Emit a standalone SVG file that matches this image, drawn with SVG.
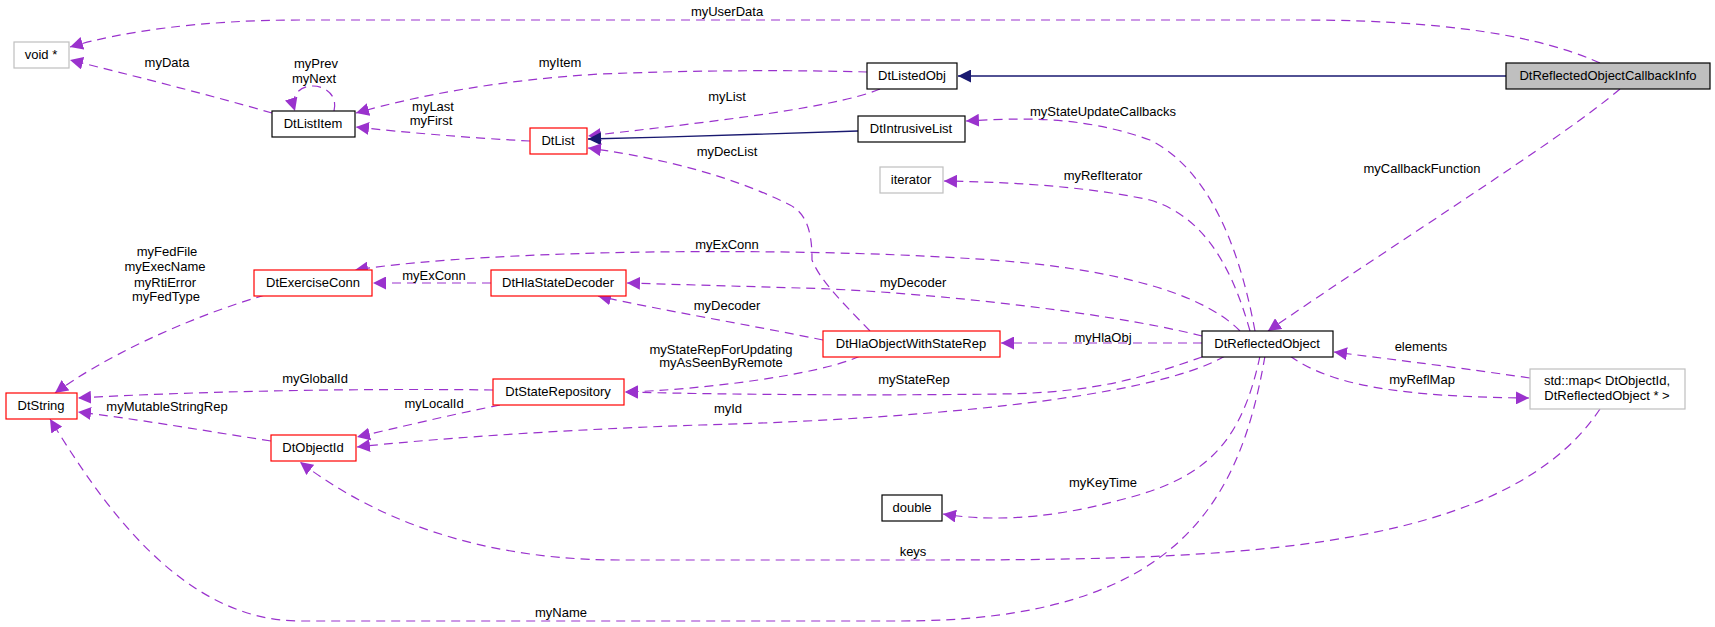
<svg xmlns="http://www.w3.org/2000/svg" width="1715" height="627" viewBox="0 0 1715 627">
<style>
text{font-family:"Liberation Sans",Arial,sans-serif;font-size:13px;fill:#000}
.n text{text-anchor:middle}
.lb{text-anchor:middle}
.e{fill:none;stroke:#9a32cd;stroke-dasharray:9,6;stroke-width:1.2}
.i{fill:none;stroke:#191970;stroke-width:1.3}
.bk{fill:#fff;stroke:#000;stroke-width:1.2}
.rd{fill:#fff;stroke:#ff0000;stroke-width:1.2}
.gy{fill:#fff;stroke:#bfbfbf;stroke-width:1.2}
</style>
<defs>
<marker id="a" viewBox="0 0 10 10" refX="10" refY="5" markerWidth="13" markerHeight="13" markerUnits="userSpaceOnUse" orient="auto"><path d="M0,0L10,5L0,10z" fill="#9a32cd"/></marker>
<marker id="b" viewBox="0 0 10 10" refX="10" refY="5" markerWidth="13" markerHeight="13" markerUnits="userSpaceOnUse" orient="auto"><path d="M0,0L10,5L0,10z" fill="#191970"/></marker>
</defs>
<g id="edges">
<path class="e" marker-end="url(#a)" d="M1600,63 C1560,45 1480,20 1300,20 L300,20 C200,20 120,32 70,47"/>
<path class="e" marker-end="url(#a)" d="M867,72 C800,70 700,70 600,74 C500,80 420,95 356,113"/>
<path class="e" marker-end="url(#a)" d="M272,113 C210,95 130,75 70,60"/>
<path class="e" marker-end="url(#a)" d="M334,111 C338,95 325,86 313,86 C300,86 290,95 295,111"/>
<path class="e" marker-end="url(#a)" d="M530,141 C470,138 400,132 356,127"/>
<path class="e" marker-end="url(#a)" d="M880,89 C830,110 680,125 588,136"/>
<path class="i" marker-end="url(#b)" d="M1506,76 L958,76"/>
<path class="i" marker-end="url(#b)" d="M858,131 C780,134 680,137 588,139"/>
<path class="e" marker-end="url(#a)" d="M1255,331 C1240,250 1210,170 1150,140 C1080,115 1020,118 966,121"/>
<path class="e" marker-end="url(#a)" d="M1250,331 C1230,260 1200,215 1150,200 C1080,185 1000,182 944,181"/>
<path class="e" marker-end="url(#a)" d="M870,331 C840,300 820,280 812,260 C812,240 810,215 790,205 C720,170 640,155 588,148"/>
<path class="e" marker-end="url(#a)" d="M1620,89 C1560,140 1400,240 1268,331"/>
<path class="e" marker-end="url(#a)" d="M1240,331 C1200,290 1100,265 960,258 C800,248 500,248 355,270"/>
<path class="e" marker-end="url(#a)" d="M491,283 L373,283"/>
<path class="e" marker-end="url(#a)" d="M1202,336 C1100,310 900,290 800,288 L627,283"/>
<path class="e" marker-end="url(#a)" d="M823,340 C750,325 660,310 598,296"/>
<path class="e" marker-end="url(#a)" d="M1202,343 L1001,343"/>
<path class="e" marker-end="url(#a)" d="M860,356 C820,375 700,390 625,392"/>
<path class="e" marker-end="url(#a)" d="M1202,357 C1150,375 1100,393 1000,394 C850,396 700,394 625,392"/>
<path class="e" marker-end="url(#a)" d="M1225,356 C1150,400 900,420 700,425 C550,430 420,440 357,447"/>
<path class="e" marker-end="url(#a)" d="M493,390 C350,388 180,392 78,398"/>
<path class="e" marker-end="url(#a)" d="M500,405 C450,415 400,427 357,437"/>
<path class="e" marker-end="url(#a)" d="M271,441 C200,430 130,418 78,412"/>
<path class="e" marker-end="url(#a)" d="M265,295 C180,320 100,360 55,393"/>
<path class="e" marker-end="url(#a)" d="M1265,356 C1240,500 1180,621 900,621 L300,621 C180,621 100,500 50,419"/>
<path class="e" marker-end="url(#a)" d="M1600,409 C1500,560 1200,560 900,560 L620,560 C450,560 350,500 300,462"/>
<path class="e" marker-end="url(#a)" d="M1260,356 C1240,450 1200,480 1120,500 C1040,522 980,520 943,514"/>
<path class="e" marker-end="url(#a)" d="M1530,378 C1440,365 1380,358 1334,352"/>
<path class="e" marker-end="url(#a)" d="M1290,356 C1330,385 1400,397 1529,398"/>
</g>
<g id="labels">
<text class="lb" x="727" y="16">myUserData</text>
<text class="lb" x="560" y="67">myItem</text>
<text class="lb" x="167" y="67">myData</text>
<text class="lb" x="316" y="68">myPrev</text>
<text class="lb" x="314" y="83">myNext</text>
<text class="lb" x="433" y="111">myLast</text>
<text class="lb" x="431" y="125">myFirst</text>
<text class="lb" x="727" y="101">myList</text>
<text class="lb" x="727" y="156">myDecList</text>
<text class="lb" x="1103" y="116">myStateUpdateCallbacks</text>
<text class="lb" x="1103" y="180">myRefIterator</text>
<text class="lb" x="1422" y="173">myCallbackFunction</text>
<text class="lb" x="727" y="249">myExConn</text>
<text class="lb" x="434" y="280">myExConn</text>
<text class="lb" x="167" y="256">myFedFile</text>
<text class="lb" x="165" y="271">myExecName</text>
<text class="lb" x="165" y="287">myRtiError</text>
<text class="lb" x="166" y="301">myFedType</text>
<text class="lb" x="913" y="287">myDecoder</text>
<text class="lb" x="727" y="310">myDecoder</text>
<text class="lb" x="1103" y="342">myHlaObj</text>
<text class="lb" x="1421" y="351">elements</text>
<text class="lb" x="1422" y="384">myReflMap</text>
<text class="lb" x="721" y="354">myStateRepForUpdating</text>
<text class="lb" x="721" y="367">myAsSeenByRemote</text>
<text class="lb" x="914" y="384">myStateRep</text>
<text class="lb" x="315" y="383">myGlobalId</text>
<text class="lb" x="434" y="408">myLocalId</text>
<text class="lb" x="167" y="411">myMutableStringRep</text>
<text class="lb" x="728" y="413">myId</text>
<text class="lb" x="1103" y="487">myKeyTime</text>
<text class="lb" x="913" y="556">keys</text>
<text class="lb" x="561" y="617">myName</text>
</g>
<g id="void" class="n"><rect class="gy" x="14" y="42" width="55" height="26"/><text x="41" y="59">void *</text></g>
<g id="DtListItem" class="n"><rect class="bk" x="272" y="111" width="83" height="26"/><text x="313" y="128">DtListItem</text></g>
<g id="DtList" class="n"><rect class="rd" x="530" y="128" width="57" height="26"/><text x="558" y="145">DtList</text></g>
<g id="DtListedObj" class="n"><rect class="bk" x="867" y="63" width="90" height="26"/><text x="912" y="80">DtListedObj</text></g>
<g id="DtIntrusiveList" class="n"><rect class="bk" x="858" y="116" width="107" height="26"/><text x="911" y="133">DtIntrusiveList</text></g>
<g id="DtReflectedObjectCallbackInfo" class="n"><rect x="1506" y="63" width="204" height="26" fill="#bfbfbf" stroke="#000" stroke-width="1.2"/><text x="1608" y="80">DtReflectedObjectCallbackInfo</text></g>
<g id="iterator" class="n"><rect class="gy" x="880" y="167" width="63" height="26"/><text x="911" y="184">iterator</text></g>
<g id="DtExerciseConn" class="n"><rect class="rd" x="254" y="270" width="118" height="26"/><text x="313" y="287">DtExerciseConn</text></g>
<g id="DtHlaStateDecoder" class="n"><rect class="rd" x="491" y="270" width="135" height="26"/><text x="558" y="287">DtHlaStateDecoder</text></g>
<g id="DtHlaObjectWithStateRep" class="n"><rect class="rd" x="823" y="331" width="177" height="26"/><text x="911" y="348">DtHlaObjectWithStateRep</text></g>
<g id="DtReflectedObject" class="n"><rect class="bk" x="1202" y="331" width="131" height="26"/><text x="1267" y="348">DtReflectedObject</text></g>
<g id="DtStateRepository" class="n"><rect class="rd" x="493" y="379" width="131" height="26"/><text x="558" y="396">DtStateRepository</text></g>
<g id="DtString" class="n"><rect class="rd" x="6" y="393" width="71" height="26"/><text x="41" y="410">DtString</text></g>
<g id="DtObjectId" class="n"><rect class="rd" x="271" y="435" width="85" height="26"/><text x="313" y="452">DtObjectId</text></g>
<g id="double" class="n"><rect class="bk" x="882" y="495" width="60" height="26"/><text x="912" y="512">double</text></g>
<g id="stdmap" class="n"><rect class="gy" x="1530" y="369" width="155" height="40"/><text x="1607" y="385">std::map&lt; DtObjectId,</text><text x="1607" y="400">DtReflectedObject * &gt;</text></g>
</svg>
